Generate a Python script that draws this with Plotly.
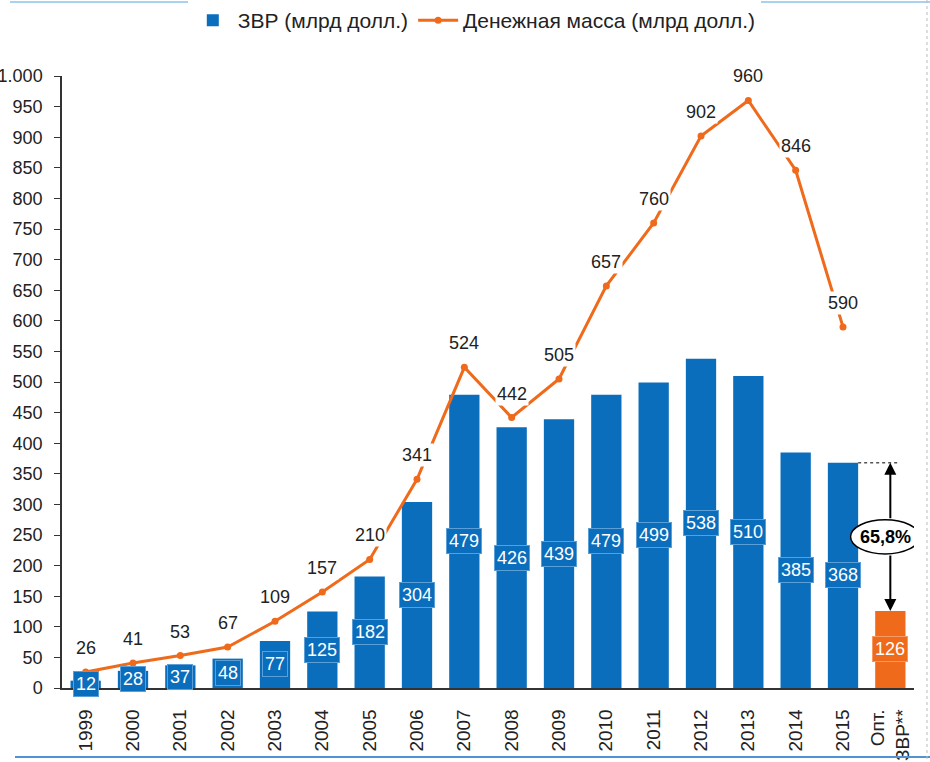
import plotly.graph_objects as go

# ──────────────────────────────────────────────
# Data
# ──────────────────────────────────────────────
YEARS = ["1999", "2000", "2001", "2002", "2003", "2004", "2005", "2006", "2007",
         "2008", "2009", "2010", "2011", "2012", "2013", "2014", "2015"]
RESERVES = [12, 28, 37, 48, 77, 125, 182, 304, 479, 426, 439, 479, 499, 538, 510, 385, 368]
MONEY_SUPPLY = [26, 41, 53, 67, 109, 157, 210, 341, 524, 442, 505, 657, 760, 902, 960, 846, 590]
OPT_CATEGORY = "Опт.<br>ЗВР**"
OPT_RESERVES = [126]
SHARE_TEXT = "65,8%"

Y_TICKS = list(range(0, 1001, 50))
Y_TICKTEXT = [str(v) for v in Y_TICKS[:-1]] + ["1.000"]

BLUE = "#0a6ebd"
ORANGE = "#ef6a1b"
FONT = "Arial, Liberation Sans, sans-serif"

# plot area in pixels: x 62..914, y 76..688
L, R, T, B = 62, 914, 76, 688
W, H = R - L, B - T


def px_x(p):
    return (p - L) / W


def px_y(p):
    return (B - p) / H


fig = go.Figure()

fig.add_trace(go.Bar(
    x=YEARS, y=RESERVES, name="ЗВР (млрд долл.)",
    marker_color=BLUE, marker_line_width=0,
))
fig.add_trace(go.Bar(
    x=[OPT_CATEGORY], y=OPT_RESERVES, showlegend=False,
    marker_color=ORANGE, marker_line_width=0,
))
fig.add_trace(go.Scatter(
    x=YEARS, y=MONEY_SUPPLY, name="Денежная масса (млрд долл.)",
    mode="lines+markers",
    line=dict(color=ORANGE, width=3),
    marker=dict(size=7, color=ORANGE),
))

annotations = []
# labels inside bars (x as category index: year strings would be read as numbers)
for i, v in enumerate(RESERVES):
    annotations.append(dict(
        x=i, y=v / 2, text=str(v), showarrow=False,
        font=dict(size=18, color="white", family=FONT),
        bgcolor=BLUE, bordercolor="#5a9fd8", borderwidth=1, borderpad=2,
    ))
opt_idx = len(YEARS)
annotations.append(dict(
    x=opt_idx, y=OPT_RESERVES[0] / 2, text=str(OPT_RESERVES[0]), showarrow=False,
    font=dict(size=18, color="white", family=FONT),
    bgcolor=ORANGE, bordercolor="#f59a62", borderwidth=1, borderpad=2,
))
# labels above line points
for i, v in enumerate(MONEY_SUPPLY):
    annotations.append(dict(
        x=i, y=v, text=str(v), showarrow=False, yshift=24,
        font=dict(size=18, color="#222222", family=FONT),
        bgcolor="white", borderpad=1,
    ))

# arrows between 2015 reserves and optimal reserves
mid = 247
annotations.append(dict(
    x=opt_idx, y=RESERVES[-1], ax=opt_idx, ay=mid + 28,
    xref="x", yref="y", axref="x", ayref="y", text="",
    showarrow=True, arrowhead=2, arrowsize=1.2, arrowwidth=2, arrowcolor="black",
))
annotations.append(dict(
    x=opt_idx, y=OPT_RESERVES[0], ax=opt_idx, ay=mid - 28,
    xref="x", yref="y", axref="x", ayref="y", text="",
    showarrow=True, arrowhead=2, arrowsize=1.2, arrowwidth=2, arrowcolor="black",
))
annotations.append(dict(
    x=opt_idx - 0.11, y=mid, text="<b>" + SHARE_TEXT + "</b>", showarrow=False,
    font=dict(size=18, color="black", family=FONT),
))

shapes = [
    # ellipse around share
    dict(type="circle", xref="x", yref="y",
         x0=opt_idx - 0.84, x1=opt_idx + 0.62, y0=mid - 28, y1=mid + 28,
         line=dict(color="black", width=1.5), fillcolor="white", layer="above"),
    # dotted line from 2015 bar top
    dict(type="line", xref="x", yref="y",
         x0=opt_idx - 0.68, x1=opt_idx + 0.2, y0=RESERVES[-1], y1=RESERVES[-1],
         line=dict(color="#555555", width=1.5, dash="dot")),
    # page frame lines
    dict(type="line", xref="paper", yref="paper",
         x0=px_x(10), x1=px_x(930), y0=px_y(2), y1=px_y(2),
         line=dict(color="#a9d1f0", width=2)),
    dict(type="line", xref="paper", yref="paper",
         x0=px_x(15), x1=px_x(930), y0=px_y(757), y1=px_y(757),
         line=dict(color="#4f93d2", width=2)),
    dict(type="line", xref="paper", yref="paper",
         x0=px_x(927), x1=px_x(927), y0=px_y(0), y1=px_y(762),
         line=dict(color="#bbbbbb", width=1, dash="dot")),
]

fig.update_layout(
    width=930, height=762,
    margin=dict(l=L, r=930 - R, t=T, b=762 - B),
    plot_bgcolor="white", paper_bgcolor="white",
    barmode="overlay", bargap=0.36,
    font=dict(family=FONT, size=18, color="#222222"),
    showlegend=True,
    legend=dict(
        orientation="h", xref="container", yref="container",
        x=0.51, xanchor="center", y=1.0, yanchor="top",
        font=dict(size=21, color="#222222"),
        itemwidth=40, traceorder="normal",
    ),
    annotations=annotations,
    shapes=shapes,
)
fig.update_xaxes(
    type="category", categoryorder="array", categoryarray=YEARS + [OPT_CATEGORY],
    range=[-0.5, len(YEARS) + 0.5], autorange=False,
    tickangle=-90, showline=True, linecolor="#333333", linewidth=1.5,
    ticks="", showgrid=False, tickfont=dict(size=19, color="#222222"),
    automargin=False, ticklabelstandoff=12,
)
fig.update_yaxes(
    range=[0, 1000], autorange=False, tickvals=Y_TICKS, ticktext=Y_TICKTEXT,
    showline=True, linecolor="#333333", linewidth=1.5,
    ticks="outside", ticklen=6, tickcolor="#333333",
    showgrid=False, zeroline=False, automargin=False,
    tickfont=dict(size=18, color="#222222"), ticklabelstandoff=8,
)

# drop the default body margin so the figure sits at the page's top-left corner
fig.write_html(
    "out.html",
    config={"displayModeBar": False},
    post_script="document.body.style.margin = '0';",
)
